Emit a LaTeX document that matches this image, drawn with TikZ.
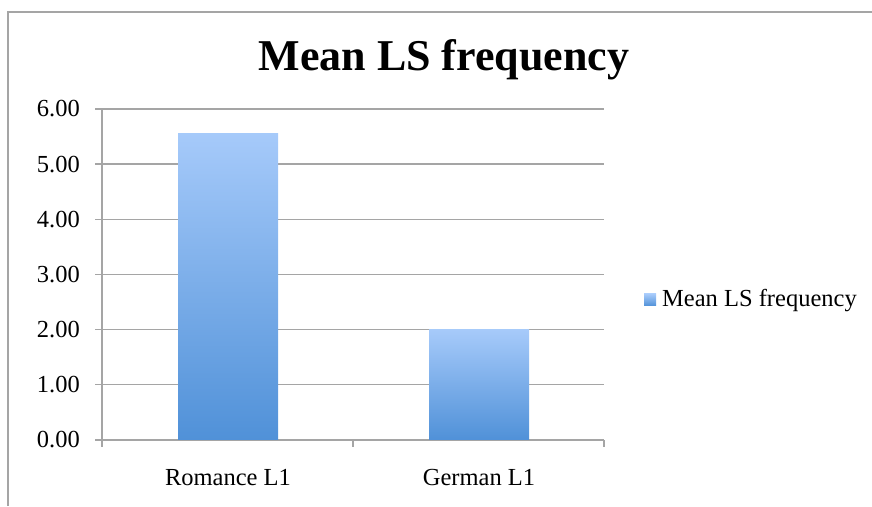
\documentclass[tikz,border=0pt]{standalone}
\usepackage{fontspec}
\setmainfont{Liberation Serif}
\definecolor{bartop}{RGB}{166,202,250}
\definecolor{barbot}{RGB}{80,145,216}
\definecolor{gridgray}{RGB}{165,165,165}

\begin{document}
\begin{tikzpicture}
  [x=1pt,y=1pt,every node/.style={inner sep=0pt,font=\fontsize{24.5}{26}\selectfont},
   gridline/.style={draw=gridgray,line width=1.3pt},
   barbox/.style={top color=bartop,bottom color=barbot,draw=none,minimum width=100pt}]
  \useasboundingbox (0,0) rectangle (872,506);
  \draw[gridgray,line width=2pt] (8,0) -- (8,494) -- (872,494);
  \node[font=\bfseries\fontsize{44}{48}\selectfont] (title) at (444,446) {Mean LS frequency};
  % gridlines, ticks and their labels
  \foreach \v in {0,...,6}{
    \draw[gridline] (95,66+55.17*\v) -- (604,66+55.17*\v);
    \node[anchor=east] (lab\v) at (80,66+55.17*\v) {\v.00};
  }
  \draw[gridline] (102,66) -- (102,397);
  \foreach \x in {102,353,604}
    \draw[gridline] (\x,66) -- (\x,59);
  % bars
  \node[barbox,anchor=south,minimum height=306.7pt] (romance) at (228,66) {};
  \node[barbox,anchor=south,minimum height=109.8pt] (german) at (479,66) {};
  \node (romancelab) at (228,28) {Romance L1};
  \node (germanlab) at (479,28) {German L1};
  % legend
  \node[barbox,minimum width=12pt,minimum height=12pt] (key) at (650,206) {};
  \node[anchor=west] (keylab) at (662,205) {Mean LS frequency};
\end{tikzpicture}
\end{document}
